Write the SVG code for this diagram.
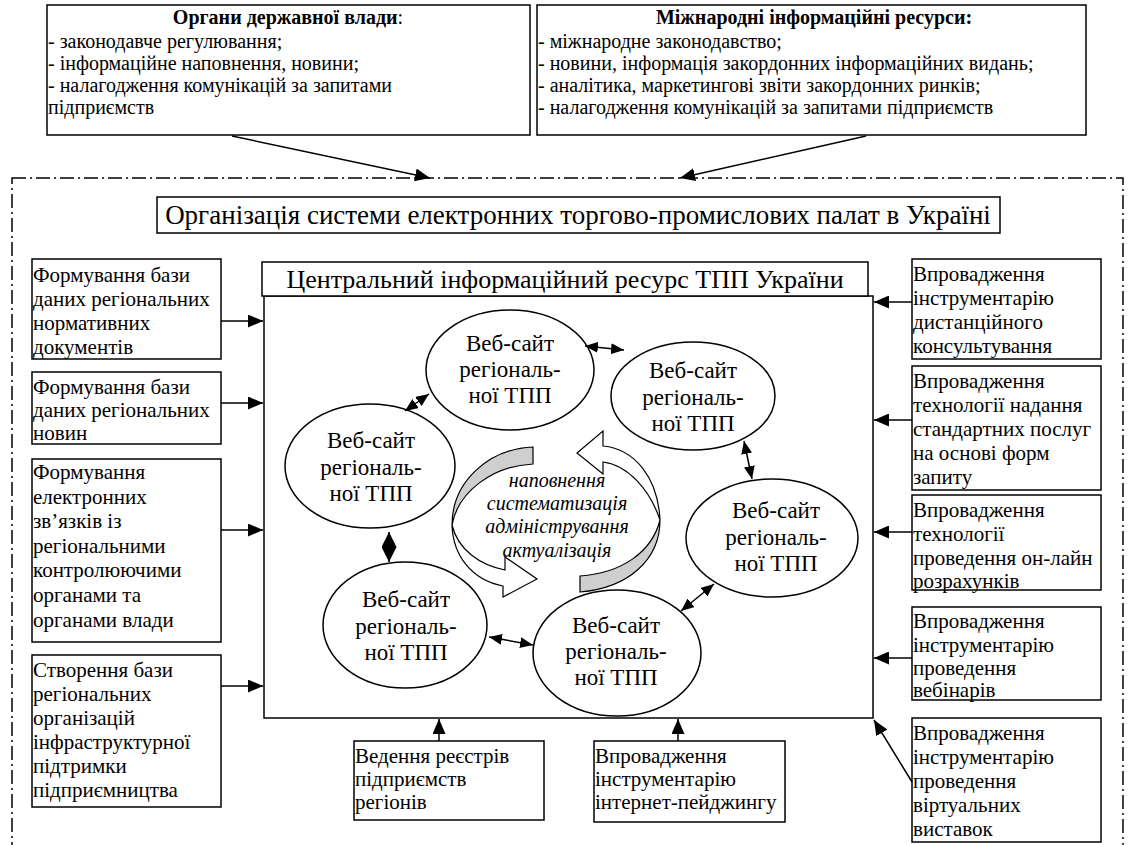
<svg xmlns="http://www.w3.org/2000/svg" width="1148" height="845" viewBox="0 0 1148 845">
<style>
.bx{fill:#fff;stroke:#000;stroke-width:1.5}
.el{fill:#fff;stroke:#000;stroke-width:1.5}
.t{font-family:"Liberation Serif","Times New Roman",serif;font-size:20px;fill:#000}
.s{font-family:"Liberation Serif","Times New Roman",serif;font-size:21px;fill:#000}
.e{font-family:"Liberation Serif","Times New Roman",serif;font-size:23px;fill:#000;text-anchor:middle}
.c{font-family:"Liberation Serif","Times New Roman",serif;font-size:20px;font-style:italic;fill:#000;text-anchor:middle}
.ln{fill:none;stroke:#000;stroke-width:1.5}
.dd{fill:none;stroke:#000;stroke-width:1.5;stroke-dasharray:14 4 2 4}
</style>
<defs>
<marker id="ar" viewBox="0 0 15 13" refX="15" refY="6.5" markerWidth="15" markerHeight="13" markerUnits="userSpaceOnUse" orient="auto"><path d="M0,0L15,6.5L0,13z"/></marker>
<marker id="db" viewBox="0 0 13 11" refX="13" refY="5.5" markerWidth="13" markerHeight="11" markerUnits="userSpaceOnUse" orient="auto-start-reverse"><path d="M0,0L13,5.5L0,11z"/></marker>
<marker id="dm" viewBox="0 0 15 15" refX="15" refY="7.5" markerWidth="15" markerHeight="15" markerUnits="userSpaceOnUse" orient="auto-start-reverse"><path d="M0,0L15,7.5L0,15z"/></marker>
</defs>

<rect id="frame" class="dd" x="12" y="178" width="1111" height="680"/>

<g id="gov">
<rect class="bx" x="47" y="5" width="483" height="130"/>
<text class="t" x="288" y="24" text-anchor="middle"><tspan font-weight="bold">Органи державної влади</tspan>:</text>
<text class="t" x="48" y="48">- законодавче регулювання;</text>
<text class="t" x="48" y="70">- інформаційне наповнення, новини;</text>
<text class="t" x="48" y="92">- налагодження комунікацій за запитами</text>
<text class="t" x="48" y="114">підприємств</text>
</g>

<g id="intl">
<rect class="bx" x="537" y="5" width="549" height="130"/>
<text class="t" x="814" y="24" text-anchor="middle" font-weight="bold">Міжнародні інформаційні ресурси:</text>
<text class="t" x="538" y="48">- міжнародне законодавство;</text>
<text class="t" x="538" y="70">- новини, інформація закордонних інформаційних видань;</text>
<text class="t" x="538" y="92">- аналітика, маркетингові звіти закордонних ринків;</text>
<text class="t" x="538" y="114">- налагодження комунікацій за запитами підприємств</text>
</g>

<g id="org">
<rect class="bx" x="157" y="197" width="843" height="36"/>
<text x="578" y="224" text-anchor="middle" style="font-family:'Liberation Serif','Times New Roman',serif;font-size:27px">Організація системи електронних торгово-промислових палат в Україні</text>
</g>

<g id="central">
<rect class="bx" x="264" y="296" width="609" height="422"/>
<rect class="bx" x="262" y="262" width="606" height="34"/>
<text x="565" y="288" text-anchor="middle" style="font-family:'Liberation Serif','Times New Roman',serif;font-size:26px">Центральний інформаційний ресурс ТПП України</text>
</g>

<g id="cycle">
<path d="M533,447 C488,449 452,482 452,525 C458,492 492,466 533,464 Z" fill="#cfcfcf" stroke="#000" stroke-width="1.2"/>
<path d="M452,525 C453,556 472,580 503,586 L503,597 L537,579 L505,557 L505,570 C480,565 458,550 452,525 Z" fill="#fff" stroke="#000" stroke-width="1.2"/>
<path d="M660,520 C660,560 628,588 580,592 L580,576 C622,573 652,552 660,520 Z" fill="#cfcfcf" stroke="#000" stroke-width="1.2"/>
<path d="M660,520 C658,478 635,449 603,446 L603,431 L577,453 L603,474 L603,462 C628,465 650,490 660,520 Z" fill="#fff" stroke="#000" stroke-width="1.2"/>
<text class="c" x="557" y="487">наповнення</text>
<text class="c" x="557" y="510">систематизація</text>
<text class="c" x="557" y="533">адміністрування</text>
<text class="c" x="557" y="557">актуалізація</text>
</g>

<g id="e1"><ellipse class="el" cx="510" cy="370" rx="84" ry="60"/>
<text class="e" x="510" y="351">Веб-сайт</text><text class="e" x="510" y="377">регіональ-</text><text class="e" x="510" y="403">ної ТПП</text></g>
<g id="e2"><ellipse class="el" cx="693" cy="396" rx="82" ry="54"/>
<text class="e" x="693" y="378">Веб-сайт</text><text class="e" x="693" y="405">регіональ-</text><text class="e" x="693" y="431">ної ТПП</text></g>
<g id="e3"><ellipse class="el" cx="370" cy="466" rx="85" ry="62"/>
<text class="e" x="371" y="448">Веб-сайт</text><text class="e" x="371" y="475">регіональ-</text><text class="e" x="371" y="501">ної ТПП</text></g>
<g id="e4"><ellipse class="el" cx="405" cy="625" rx="82" ry="63"/>
<text class="e" x="406" y="607">Веб-сайт</text><text class="e" x="406" y="634">регіональ-</text><text class="e" x="406" y="660">ної ТПП</text></g>
<g id="e5"><ellipse class="el" cx="617" cy="653" rx="84" ry="63"/>
<text class="e" x="616" y="633">Веб-сайт</text><text class="e" x="616" y="659">регіональ-</text><text class="e" x="616" y="685">ної ТПП</text></g>
<g id="e6"><ellipse class="el" cx="772" cy="538" rx="86" ry="59"/>
<text class="e" x="776" y="518">Веб-сайт</text><text class="e" x="776" y="545">регіональ-</text><text class="e" x="776" y="571">ної ТПП</text></g>

<g id="l1"><rect class="bx" x="32" y="259" width="189" height="100"/>
<text class="s" x="33" y="282">Формування бази</text><text class="s" x="33" y="306">даних регіональних</text><text class="s" x="33" y="330">нормативних</text><text class="s" x="33" y="354">документів</text></g>
<g id="l2"><rect class="bx" x="32" y="372" width="189" height="72"/>
<text class="s" x="33" y="394">Формування бази</text><text class="s" x="33" y="417">даних регіональних</text><text class="s" x="33" y="440">новин</text></g>
<g id="l3"><rect class="bx" x="32" y="459" width="189" height="183"/>
<text class="s" x="33" y="479">Формування</text><text class="s" x="33" y="504">електронних</text><text class="s" x="33" y="528">зв’язків із</text><text class="s" x="33" y="553">регіональними</text><text class="s" x="33" y="577">контролюючими</text><text class="s" x="33" y="602">органами та</text><text class="s" x="33" y="627">органами влади</text></g>
<g id="l4"><rect class="bx" x="32" y="655" width="189" height="152"/>
<text class="s" x="33" y="677">Створення бази</text><text class="s" x="33" y="701">регіональних</text><text class="s" x="33" y="725">організацій</text><text class="s" x="33" y="749">інфраструктурної</text><text class="s" x="33" y="773">підтримки</text><text class="s" x="33" y="797">підприємництва</text></g>

<g id="r1"><rect class="bx" x="912" y="259" width="189" height="100"/>
<text class="s" x="913" y="281">Впровадження</text><text class="s" x="913" y="305">інструментарію</text><text class="s" x="913" y="329">дистанційного</text><text class="s" x="913" y="353">консультування</text></g>
<g id="r2"><rect class="bx" x="912" y="366" width="189" height="124"/>
<text class="s" x="913" y="388">Впровадження</text><text class="s" x="913" y="412">технології надання</text><text class="s" x="913" y="436">стандартних послуг</text><text class="s" x="913" y="460">на основі форм</text><text class="s" x="913" y="484">запиту</text></g>
<g id="r3"><rect class="bx" x="912" y="495" width="189" height="95"/>
<text class="s" x="913" y="517">Впровадження</text><text class="s" x="913" y="541">технології</text><text class="s" x="913" y="565">проведення он-лайн</text><text class="s" x="913" y="588">розрахунків</text></g>
<g id="r4"><rect class="bx" x="912" y="607" width="189" height="93"/>
<text class="s" x="913" y="628">Впровадження</text><text class="s" x="913" y="652">інструментарію</text><text class="s" x="913" y="675">проведення</text><text class="s" x="913" y="697">вебінарів</text></g>
<g id="r5"><rect class="bx" x="912" y="718" width="189" height="124"/>
<text class="s" x="913" y="740">Впровадження</text><text class="s" x="913" y="764">інструментарію</text><text class="s" x="913" y="788">проведення</text><text class="s" x="913" y="812">віртуальних</text><text class="s" x="913" y="836">виставок</text></g>

<g id="b1"><rect class="bx" x="354" y="741" width="190" height="79"/>
<text class="s" x="355" y="763">Ведення реєстрів</text><text class="s" x="355" y="786">підприємств</text><text class="s" x="355" y="809">регіонів</text></g>
<g id="b2"><rect class="bx" x="594" y="741" width="191" height="81"/>
<text class="s" x="595" y="763">Впровадження</text><text class="s" x="595" y="786">інструментарію</text><text class="s" x="595" y="809">інтернет-пейджингу</text></g>

<g id="connectors">
<line class="ln" x1="232" y1="136" x2="430" y2="178" marker-end="url(#ar)"/>
<line class="ln" x1="866" y1="136" x2="680" y2="178" marker-end="url(#ar)"/>
<line class="ln" x1="221" y1="321" x2="263" y2="321" marker-end="url(#ar)"/>
<line class="ln" x1="221" y1="403" x2="263" y2="403" marker-end="url(#ar)"/>
<line class="ln" x1="221" y1="530" x2="263" y2="530" marker-end="url(#ar)"/>
<line class="ln" x1="221" y1="686" x2="263" y2="686" marker-end="url(#ar)"/>
<line class="ln" x1="912" y1="302" x2="874" y2="302" marker-end="url(#ar)"/>
<line class="ln" x1="912" y1="420" x2="874" y2="420" marker-end="url(#ar)"/>
<line class="ln" x1="912" y1="532" x2="874" y2="532" marker-end="url(#ar)"/>
<line class="ln" x1="912" y1="658" x2="874" y2="658" marker-end="url(#ar)"/>
<line class="ln" x1="912" y1="782" x2="874" y2="720" marker-end="url(#ar)"/>
<line class="ln" x1="439" y1="741" x2="439" y2="719" marker-end="url(#ar)"/>
<line class="ln" x1="678" y1="741" x2="678" y2="719" marker-end="url(#ar)"/>
<line class="ln" x1="585" y1="346" x2="624" y2="350" marker-start="url(#db)" marker-end="url(#db)"/>
<line class="ln" x1="405" y1="411" x2="429" y2="394" marker-start="url(#db)" marker-end="url(#db)"/>
<line class="ln" x1="389" y1="532" x2="389" y2="562" marker-start="url(#dm)" marker-end="url(#dm)"/>
<line class="ln" x1="489" y1="637" x2="533" y2="645" marker-start="url(#db)" marker-end="url(#db)"/>
<line class="ln" x1="681" y1="611" x2="714" y2="584" marker-start="url(#db)" marker-end="url(#db)"/>
<line class="ln" x1="744" y1="441" x2="752" y2="479" marker-start="url(#db)" marker-end="url(#db)"/>
</g>
</svg>
